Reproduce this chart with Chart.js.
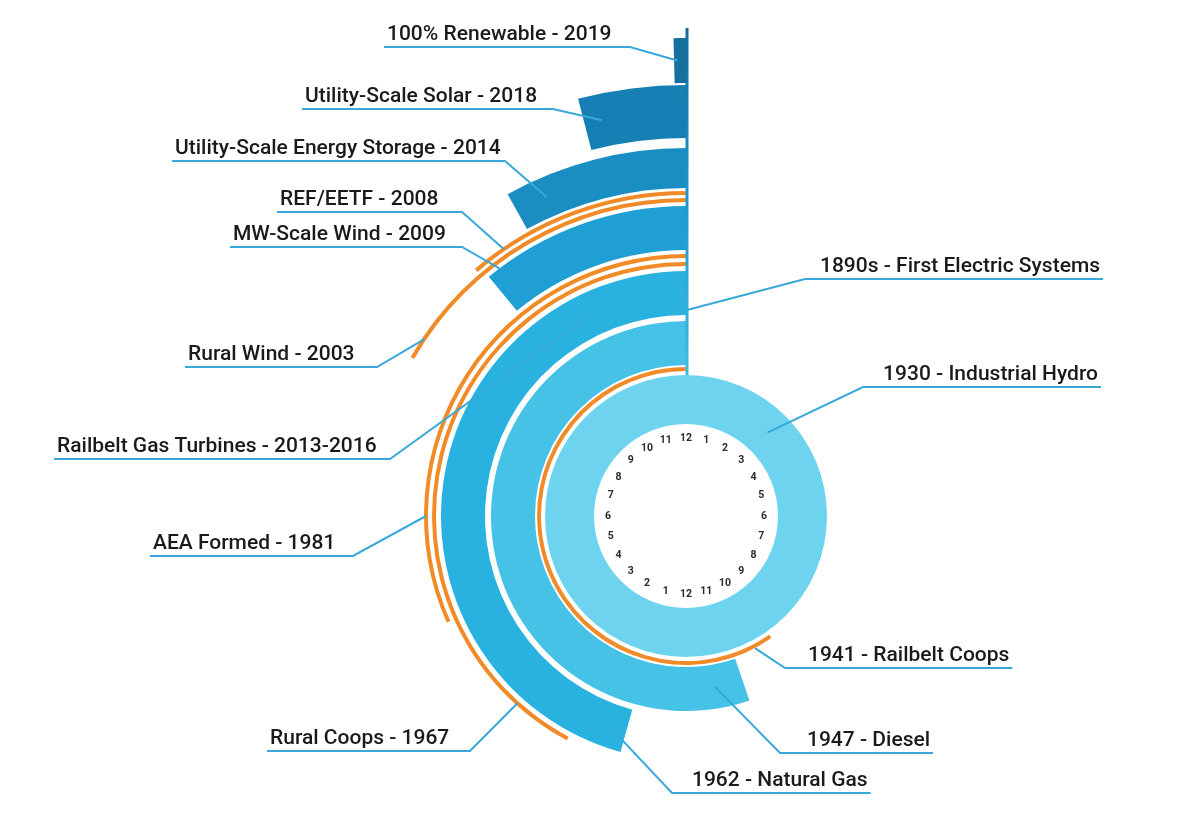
<!DOCTYPE html>
<html>
<head>
  <meta charset="utf-8" />
  <title>Alaska energy milestones</title>
  <script src="https://cdn.jsdelivr.net/npm/chart.js@4.4.0/dist/chart.umd.min.js"></script>
  <style>
    html, body { margin: 0; padding: 0; background: #fff; overflow: hidden; }
    .chart-container { position: relative; width: 1200px; height: 828px; }
  </style>
</head>
<body>

<div class="chart-container">
  <canvas id="milestoneChart"></canvas>
</div>

<script>
  // one ring per milestone, outermost first
  const ringLabels = [
    '100% Renewable - 2019', 'Utility-Scale Solar - 2018', 'Utility-Scale Energy Storage - 2014',
    'REF/EETF - 2008', 'Rural Wind - 2003', 'MW-Scale Wind - 2009', 'AEA Formed - 1981',
    'Rural Coops - 1967', '1962 - Natural Gas', '1947 - Diesel', '1941 - Railbelt Coops',
    '1930 - Industrial Hydro'
  ];
  // how far each arc sweeps back (counter-clockwise) from 12 o'clock, in degrees
  const ringSweep = [1.5, 14.5, 29, 40.5, 60, 39.5, 114, 152, 164.5, 199, 215, 360];
  // labels that point at something other than their own ring
  const extraLabels = ['1890s - First Electric Systems', 'Railbelt Gas Turbines - 2013-2016'];
  // numbers round the clock face, clockwise from the top
  const clockTicks = ['12','1','2','3','4','5','6','7','8','9','10','11',
                      '12','1','2','3','4','5','6','7','8','9','10','11'];

  // ring geometry (px) and colours
  const ringOuter = [478, 431, 368, 325, 318, 310, 262, 254, 245, 195, 149, 141];
  const ringInner = [433, 378, 328, 321, 314, 266, 258, 250, 201, 151, 145, 92];
  const stemTop = 488;
  const ringColors = ['#15709e', '#1680b4', '#1a8dc2', '#f08b27', '#f08b27', '#1f9fd3', '#f08b27',
                      '#f08b27', '#29b2df', '#45c2e6', '#f08b27', '#6dd3ee'];

  // callouts: ring index (-1 = stem), angle along arc (deg ccw from top), radial spot,
  // text x, alignment, underline y, x where the underline turns
  const callouts = [
    { text: ringLabels[0],  ring: 0,  ang: 1.1,   at: 'mid',   x: 387,  align: 'left',  y: 47,  elbow: 630 },
    { text: ringLabels[1],  ring: 1,  ang: 12,    at: 'mid',   x: 305,  align: 'left',  y: 109, elbow: 553 },
    { text: ringLabels[2],  ring: 2,  ang: 23.6,  at: 'mid',   x: 175,  align: 'left',  y: 161, elbow: 505 },
    { text: ringLabels[3],  ring: 3,  ang: 34.3,  at: 'mid',   x: 280,  align: 'left',  y: 212, elbow: 462 },
    { text: ringLabels[5],  ring: 5,  ang: 37,    at: 'outer', x: 233,  align: 'left',  y: 247, elbow: 462 },
    { text: ringLabels[4],  ring: 4,  ang: 56,    at: 'mid',   x: 188,  align: 'left',  y: 367, elbow: 377 },
    { text: extraLabels[1], ring: 8,  ang: 25.4,  at: 'mid',   x: 57,   align: 'left',  y: 459, elbow: 390 },
    { text: ringLabels[6],  ring: 6,  ang: 90,    at: 'mid',   x: 153,  align: 'left',  y: 556, elbow: 353 },
    { text: ringLabels[7],  ring: 7,  ang: 138,   at: 'mid',   x: 270,  align: 'left',  y: 751, elbow: 470 },
    { text: ringLabels[8],  ring: 8,  ang: 159.5, at: 'mid',   x: 692,  align: 'left',  y: 793, elbow: 672 },
    { text: ringLabels[9],  ring: 9,  ang: 189.6, at: 'mid',   x: 807,  align: 'left',  y: 753, elbow: 780 },
    { text: ringLabels[10], ring: 10, ang: 207.6, at: 'outer', x: 808,  align: 'left',  y: 668, elbow: 785 },
    { text: ringLabels[11], ring: 11, ang: 315.7, at: 'mid',   x: 1098, align: 'right', y: 387, elbow: 863 },
    { text: extraLabels[0], ring: -1, ang: 0,     at: 206,     x: 1100, align: 'right', y: 279, elbow: 805 }
  ];

  // build the doughnut rings, with clear spacer rings for the white gaps
  const datasets = [];
  const ringDataset = [];
  let edge = stemTop;
  ringLabels.forEach((label, i) => {
    if (edge > ringOuter[i]) {
      datasets.push({ label: 'gap', data: [1], backgroundColor: ['rgba(0,0,0,0)'], weight: edge - ringOuter[i] });
    }
    ringDataset.push(datasets.length);
    datasets.push({
      label: label,
      data: [360 - ringSweep[i], ringSweep[i]],
      backgroundColor: ['rgba(0,0,0,0)', ringColors[i]],
      weight: ringOuter[i] - ringInner[i]
    });
    edge = ringInner[i];
  });

  const calloutPlugin = {
    id: 'callouts',
    afterDatasetsDraw(chart) {
      const ctx = chart.ctx;
      const hydro = chart.getDatasetMeta(ringDataset[11]).data[1];
      const cx = hydro.x, cy = hydro.y;
      const outerOf = i => chart.getDatasetMeta(ringDataset[i]).data[1].outerRadius;
      const innerOf = i => chart.getDatasetMeta(ringDataset[i]).data[1].innerRadius;
      const topR = outerOf(0) + (stemTop - ringOuter[0]);

      // 1890s stem
      ctx.save();
      const grad = ctx.createLinearGradient(0, cy - topR, 0, cy - outerOf(11));
      grad.addColorStop(0, '#14699a');
      grad.addColorStop(0.5, '#1f98cc');
      grad.addColorStop(1, '#3dbbe4');
      ctx.strokeStyle = grad;
      ctx.lineWidth = 3;
      ctx.beginPath();
      ctx.moveTo(cx + 1, cy - topR);
      ctx.lineTo(cx + 1, cy - outerOf(11));
      ctx.stroke();

      // callout lines and text
      ctx.font = '500 21px Roboto';
      ctx.textBaseline = 'alphabetic';
      callouts.forEach(c => {
        let ax, ay;
        if (c.ring < 0) {
          ax = cx + 1; ay = cy - c.at;
        } else {
          const r = c.at === 'outer' ? outerOf(c.ring) : (outerOf(c.ring) + innerOf(c.ring)) / 2;
          const a = c.ang * Math.PI / 180;
          ax = cx - r * Math.sin(a);
          ay = cy - r * Math.cos(a);
        }
        const w = ctx.measureText(c.text).width;
        const left = c.align === 'left' ? c.x : c.x - w;
        const right = left + w;
        const x0 = Math.min(left - 3, c.elbow);
        const x1 = Math.max(right + 3, c.elbow);
        ctx.strokeStyle = '#37a8d9';
        ctx.lineWidth = 2;
        ctx.beginPath();
        if (c.elbow >= x1) {
          ctx.moveTo(x0, c.y); ctx.lineTo(c.elbow, c.y);
        } else {
          ctx.moveTo(x1, c.y); ctx.lineTo(c.elbow, c.y);
        }
        ctx.lineTo(ax, ay);
        ctx.stroke();
        ctx.fillStyle = '#1a1a1a';
        ctx.textAlign = 'left';
        ctx.fillText(c.text, left, c.y - 7);
      });

      // clock face numbers
      ctx.font = 'bold 10.5px Roboto';
      ctx.fillStyle = '#2b2b2b';
      ctx.textAlign = 'center';
      ctx.textBaseline = 'middle';
      const clockR = innerOf(11) - 14;
      clockTicks.forEach((t, k) => {
        const a = k * 15 * Math.PI / 180;
        ctx.fillText(t, cx + clockR * Math.sin(a), cy - clockR * Math.cos(a));
      });
      ctx.restore();
    }
  };

  new Chart(document.getElementById('milestoneChart').getContext('2d'), {
    type: 'doughnut',
    data: { labels: ['rest', 'milestone'], datasets },
    options: {
      responsive: true,
      maintainAspectRatio: false,
      animation: false,
      events: [],
      radius: stemTop,
      cutout: (ringInner[11] / stemTop * 100) + '%',
      clip: false,
      borderWidth: 0,
      layout: { padding: { left: 172, right: 0, top: 204, bottom: 0 } },
      plugins: {
        legend: { display: false },
        tooltip: { enabled: false }
      }
    },
    plugins: [calloutPlugin]
  });
</script>

</body>
</html>
